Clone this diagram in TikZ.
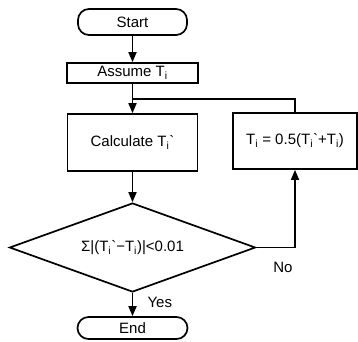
\documentclass[tikz,border=0pt]{standalone}
\usepackage{fontspec}
\setmainfont{Liberation Sans}
\usetikzlibrary{arrows.meta,shapes.geometric}
\begin{document}
\begin{tikzpicture}[x=1pt,y=-1pt,
  every node/.style={font=\fontsize{15}{18}\selectfont},
  line/.style={line width=1.7pt},
  arr/.style={line width=1.7pt,-{Triangle[length=10pt,width=8pt]}},
  box/.style={draw,line width=1.7pt,rectangle,inner sep=0pt},
  term/.style={draw,line width=1.7pt,rectangle,inner sep=0pt,rounded corners=11pt},
  decision/.style={draw,line width=1.7pt,diamond,aspect=2.76,inner sep=0pt}]
\useasboundingbox (0,0) rectangle (358,341);
\node[term,minimum width=109pt,minimum height=26pt] (start) at (132.5,22) {Start};
\node[box,minimum width=131pt,minimum height=20pt] (assume) at (132.5,73) {Assume T\textsubscript{i}};
\node[box,minimum width=130pt,minimum height=57pt] (calc) at (132.5,142.5) {Calculate T\textsubscript{i}\textasciigrave};
\node[box,minimum width=124pt,minimum height=56pt] (upd) at (295,141) {T\textsubscript{i} = 0.5(T\textsubscript{i}\textasciigrave+T\textsubscript{i})};
\node[decision,minimum width=246pt,minimum height=89pt] (dec) at (132.5,247.5) {Σ|(T\textsubscript{i}\textasciigrave−T\textsubscript{i})|<0.01};
\node[term,minimum width=110pt,minimum height=22pt] (stop) at (132.5,328) {End};
\coordinate (join) at (132.5,99);
\coordinate (corner) at (upd.south |- dec.east);
\draw[arr] (start) -- (assume);
\draw[arr] (assume) -- (calc);
\draw[line] (upd.north) |- (join);
\draw[arr] (calc) -- (dec);
\draw[arr] (dec.east) -- (corner) -- (upd.south);
\draw[arr] (dec.south) -- (stop);
\node[anchor=west] (yes) at (144,302) {Yes};
\node (no) at (283,267) {No};
\end{tikzpicture}
\end{document}
